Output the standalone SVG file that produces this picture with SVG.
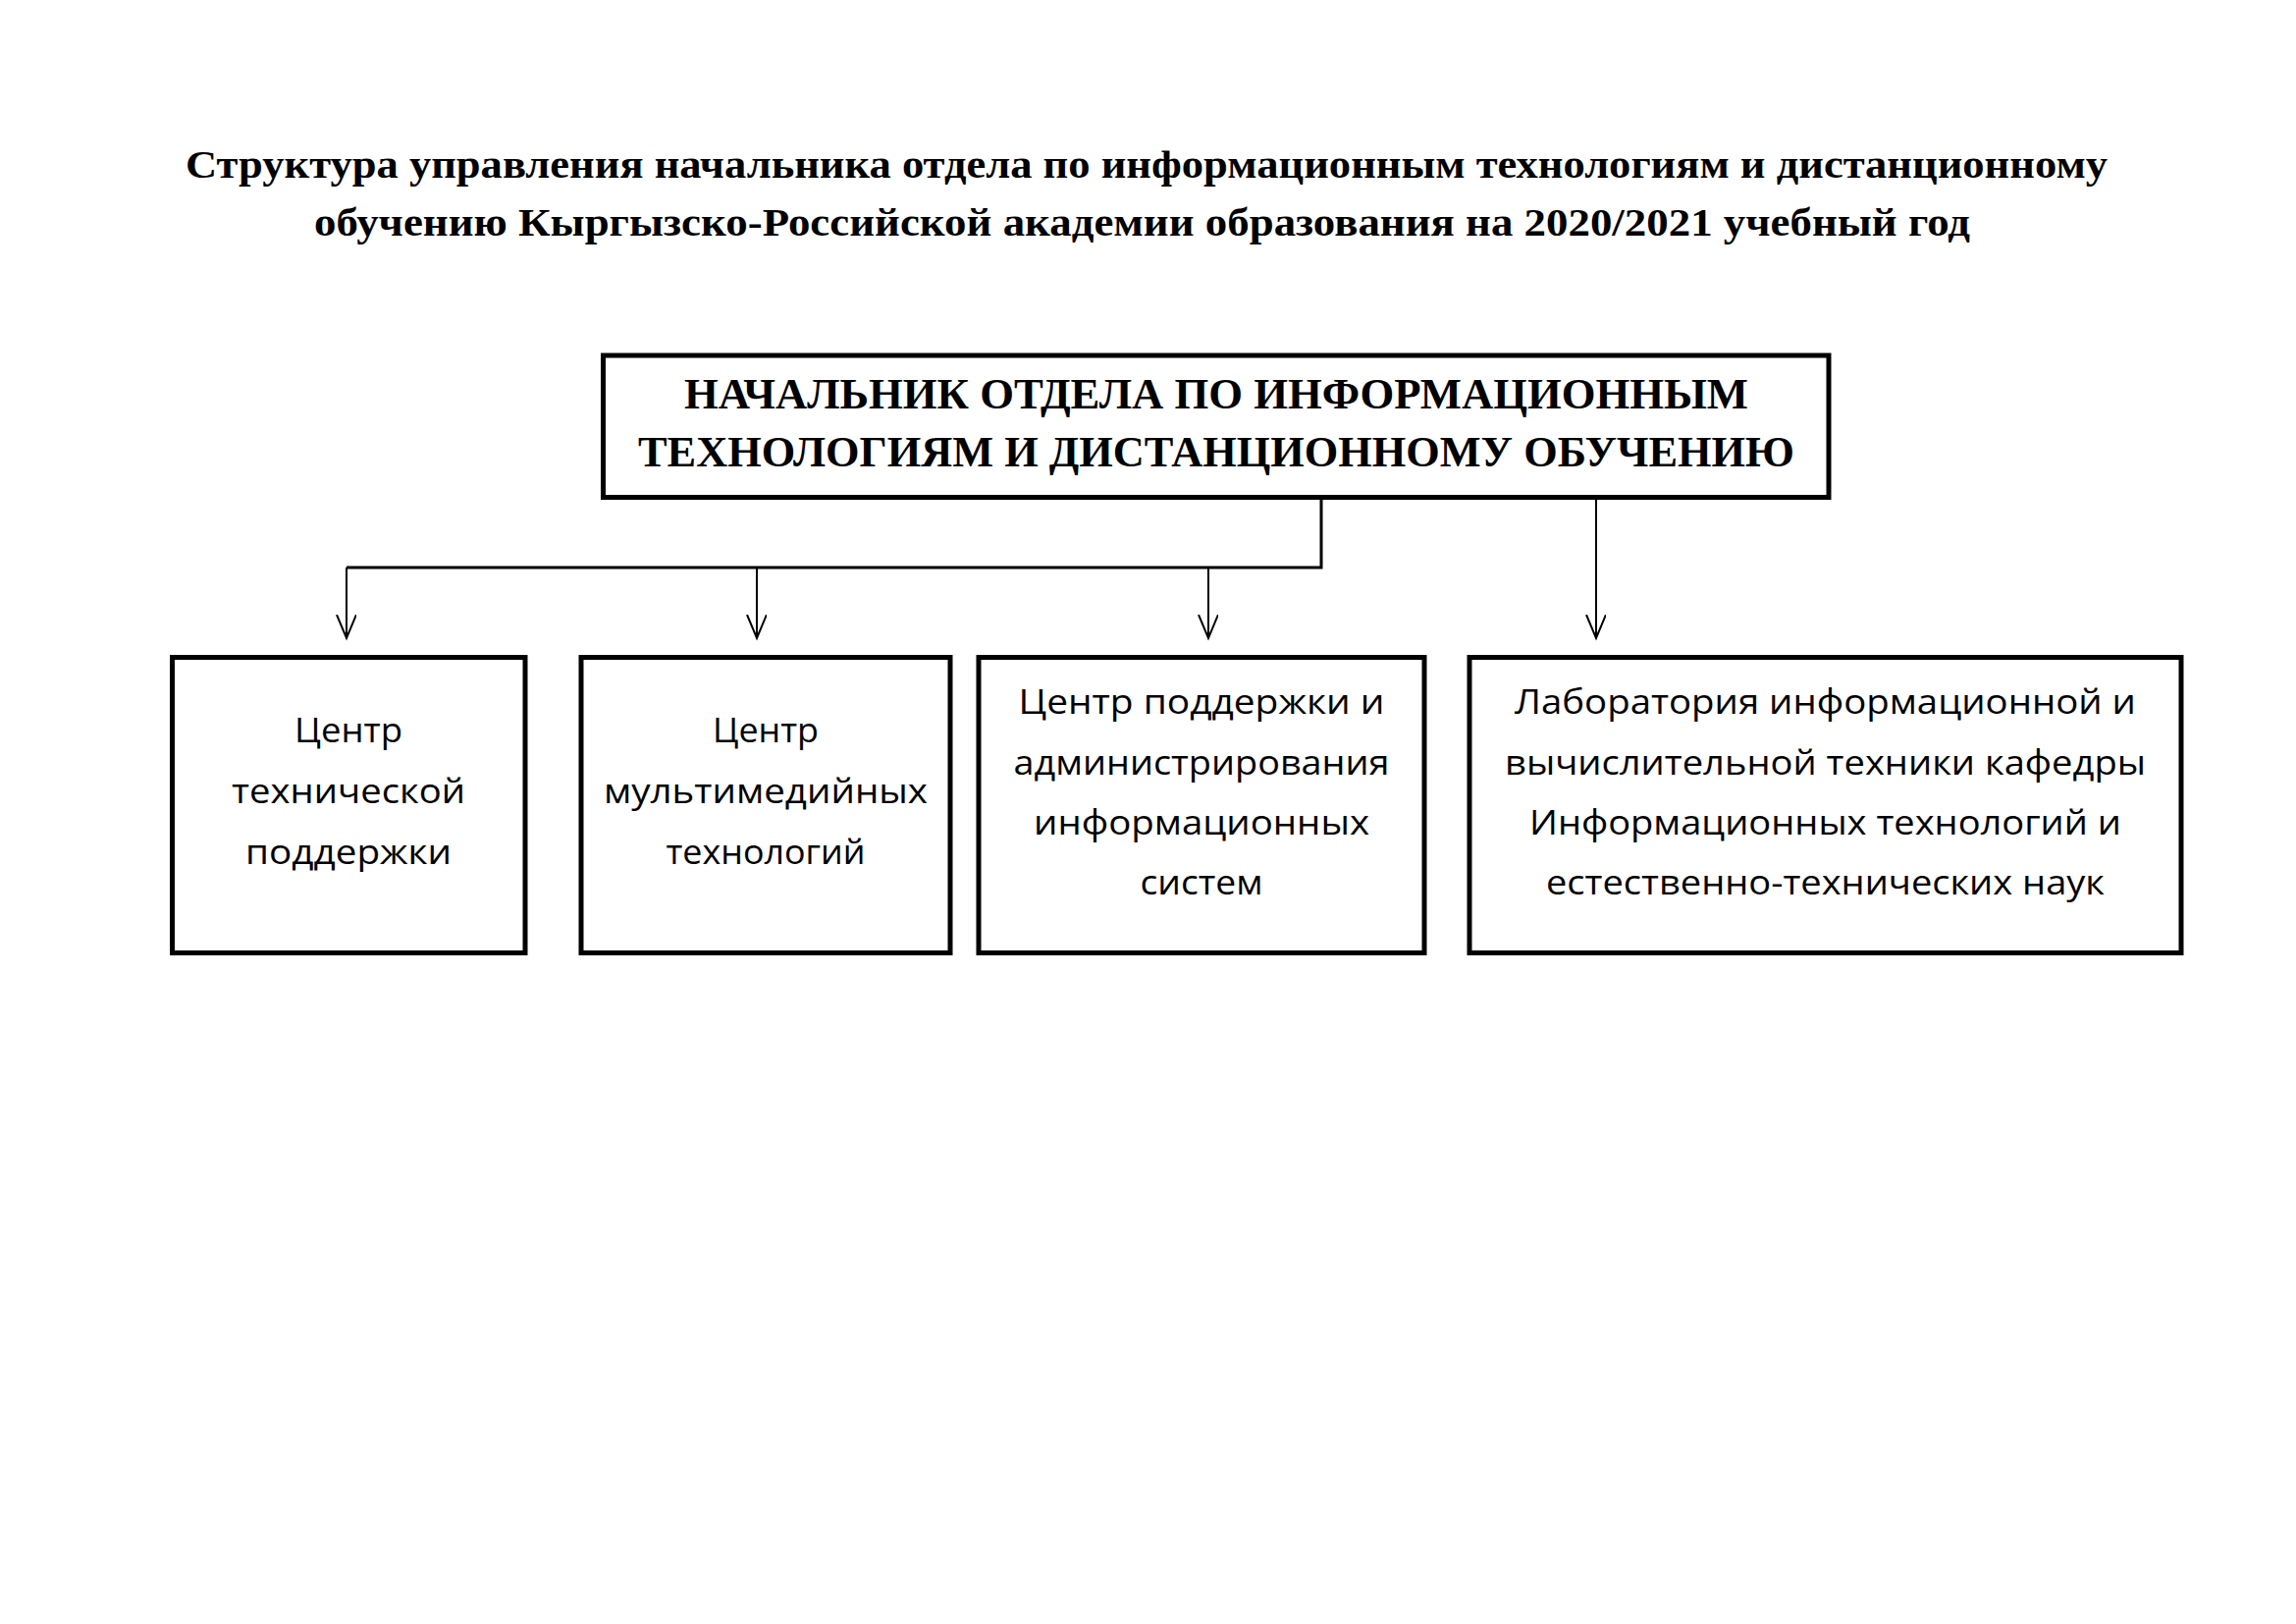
<svg xmlns="http://www.w3.org/2000/svg" width="2339" height="1654" viewBox="0 0 2339 1654">
<style>
.box{fill:#fff;stroke:#000;stroke-width:5}
.title{font-family:"Liberation Serif","Times New Roman",serif;font-weight:bold;font-size:39px;fill:#000;text-anchor:middle}
.head{font-family:"Liberation Serif","Times New Roman",serif;font-weight:bold;font-size:44px;fill:#000;text-anchor:middle}
.lbl{font-family:"Open Sans","Noto Sans","DejaVu Sans",sans-serif;font-size:35px;fill:#000;text-anchor:middle}
.ln{fill:none;stroke:#000;stroke-width:2}
</style>
<defs>
<marker id="arr" markerWidth="28" markerHeight="24" refX="24" refY="10" orient="auto" markerUnits="userSpaceOnUse">
<path d="M0,0 L24,10 L0,20" fill="none" stroke="#000" stroke-width="2"/>
</marker>
</defs>
<rect width="2339" height="1654" fill="#fff"/>
<g id="title">
<text class="title" x="1168" y="181" textLength="1958" lengthAdjust="spacingAndGlyphs">Структура управления начальника отдела по информационным технологиям и дистанционному</text>
<text class="title" x="1163.5" y="240" textLength="1687" lengthAdjust="spacingAndGlyphs">обучению Кыргызско-Российской академии образования на 2020/2021 учебный год</text>
</g>
<g id="connectors">
<polyline class="ln" points="1346,507 1346,578 353,578" style="stroke-width:3"/>
<line class="ln" x1="353" y1="578" x2="353" y2="650" marker-end="url(#arr)"/>
<line class="ln" x1="771" y1="578" x2="771" y2="650" marker-end="url(#arr)"/>
<line class="ln" x1="1231" y1="578" x2="1231" y2="650" marker-end="url(#arr)"/>
<line class="ln" x1="1626" y1="507" x2="1626" y2="650" marker-end="url(#arr)"/>
</g>
<g id="head">
<rect class="box" x="614.5" y="362" width="1248.5" height="144.5"/>
<text class="head" x="1239" y="416" textLength="1084" lengthAdjust="spacingAndGlyphs">НАЧАЛЬНИК ОТДЕЛА ПО ИНФОРМАЦИОННЫМ</text>
<text class="head" x="1239" y="475" textLength="1178" lengthAdjust="spacingAndGlyphs">ТЕХНОЛОГИЯМ И ДИСТАНЦИОННОМУ ОБУЧЕНИЮ</text>
</g>
<g id="n1">
<rect class="box" x="175.5" y="669.5" width="359.5" height="301"/>
<text class="lbl" x="355" y="756" textLength="110" lengthAdjust="spacingAndGlyphs">Центр</text>
<text class="lbl" x="355" y="818" textLength="238" lengthAdjust="spacingAndGlyphs">технической</text>
<text class="lbl" x="355" y="880" textLength="210" lengthAdjust="spacingAndGlyphs">поддержки</text>
</g>
<g id="n2">
<rect class="box" x="592" y="669.5" width="376" height="301"/>
<text class="lbl" x="780" y="756" textLength="108" lengthAdjust="spacingAndGlyphs">Центр</text>
<text class="lbl" x="780" y="818" textLength="330" lengthAdjust="spacingAndGlyphs">мультимедийных</text>
<text class="lbl" x="780" y="880" textLength="203" lengthAdjust="spacingAndGlyphs">технологий</text>
</g>
<g id="n3">
<rect class="box" x="997" y="669.5" width="454" height="301"/>
<text class="lbl" x="1224" y="727" textLength="373" lengthAdjust="spacingAndGlyphs">Центр поддержки и</text>
<text class="lbl" x="1224" y="789" textLength="383" lengthAdjust="spacingAndGlyphs">администрирования</text>
<text class="lbl" x="1224" y="850" textLength="342" lengthAdjust="spacingAndGlyphs">информационных</text>
<text class="lbl" x="1224" y="911" textLength="125" lengthAdjust="spacingAndGlyphs">систем</text>
</g>
<g id="n4">
<rect class="box" x="1497" y="669.5" width="725" height="301"/>
<text class="lbl" x="1859.5" y="727" textLength="633" lengthAdjust="spacingAndGlyphs">Лаборатория информационной и</text>
<text class="lbl" x="1859.5" y="789" textLength="653" lengthAdjust="spacingAndGlyphs">вычислительной техники кафедры</text>
<text class="lbl" x="1859.5" y="850" textLength="603" lengthAdjust="spacingAndGlyphs">Информационных технологий и</text>
<text class="lbl" x="1859.5" y="911" textLength="569" lengthAdjust="spacingAndGlyphs">естественно-технических наук</text>
</g>
</svg>
